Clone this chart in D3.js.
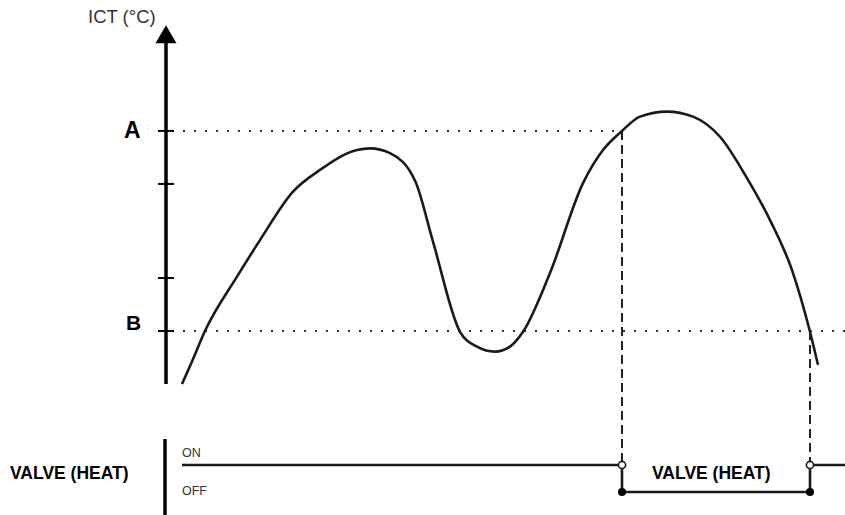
<!DOCTYPE html>
<html>
<head>
<meta charset="utf-8">
<script src="https://cdn.jsdelivr.net/npm/d3@7"></script>
<style>
    body { margin: 0; background: #fff; }
    svg { display: block; font-family: Arial, "Liberation Sans", sans-serif; }
</style>
</head>
<body>
<svg class="chart_ict" width="845" height="515"></svg>
<script>
// time (min) of each traced point of the ICT curve
var curveTime = [1.6, 2.6, 3.9, 7.1, 9.4, 12.7, 15.4, 19.1, 20.4, 22.4, 24.95, 26.7, 29.4, 31.1,
    32.9, 34.4, 35.7, 38.4, 41.7, 43.7, 45.6, 47.4, 50.1, 52.7, 55.4, 58.1, 60.5, 62.6, 64.4, 65.2];
// ICT temperature (°C) at those times
var curveTemp = [18.0, 18.85, 20.0, 22.05, 23.43, 25.26, 26.08, 26.83, 26.89, 26.71, 25.63, 23.37, 19.97, 19.41,
    19.22, 19.41, 19.97, 22.19, 25.58, 26.83, 27.55, 28.09, 28.28, 28.09, 27.33, 25.77, 24.11, 22.30, 19.97, 18.72];

var tickTemps = [20, 22, 25.55, 27.55];
var setA = 27.55;
var setB = 20;

// valve steps: start time of each state, last value is end of chart
var valveTimes = [1.6, 45.6, 64.4, 68];
var valveStates = ["ON", "OFF", "ON"];

var svg = d3.select(".chart_ict");
var ink = "#1a1a1a";

var x = d3.scaleLinear().domain([0, 68]).range([166, 846]);
var y = d3.scaleLinear().domain([18, 31.5]).range([384, 26.25]);
var yValve = d3.scaleOrdinal().domain(["ON", "OFF"]).range([465, 492]);

var data = curveTime.map(function (t, i) { return {t: t, v: curveTemp[i]}; });

// dotted setpoint lines
svg.append("line")
    .attr("x1", x(0) + 6).attr("x2", x(valveTimes[1]))
    .attr("y1", y(setA)).attr("y2", y(setA))
    .attr("stroke", "#333").attr("stroke-width", 2)
    .attr("stroke-dasharray", "2,9");
svg.append("line")
    .attr("x1", x(0) + 6).attr("x2", 845)
    .attr("y1", y(setB)).attr("y2", y(setB))
    .attr("stroke", "#333").attr("stroke-width", 2)
    .attr("stroke-dasharray", "2,9");

// dashed drops from the crossings to the valve line
svg.selectAll("line.drop")
    .data([{t: valveTimes[1], v: setA}, {t: valveTimes[2], v: setB}])
    .enter()
    .append("line")
    .attr("class", "drop")
    .attr("x1", function (d) { return x(d.t); })
    .attr("x2", function (d) { return x(d.t); })
    .attr("y1", function (d) { return y(d.v); })
    .attr("y2", yValve("ON") - 4)
    .attr("stroke", "#222").attr("stroke-width", 2)
    .attr("stroke-dasharray", "9,5");

// temperature axis
svg.append("line")
    .attr("x1", x(0)).attr("x2", x(0))
    .attr("y1", y(18)).attr("y2", y(31.5) + 12)
    .attr("stroke", "#000").attr("stroke-width", 3.5);
svg.append("path")
    .attr("d", "M" + x(0) + "," + (y(31.5) - 1) + "L" + (x(0) - 10.5) + "," + (y(31.5) + 17) + "L" + (x(0) + 10.5) + "," + (y(31.5) + 17) + "Z")
    .attr("fill", "#000");
svg.selectAll("line.tick")
    .data(tickTemps)
    .enter()
    .append("line")
    .attr("class", "tick")
    .attr("x1", x(0) - 8).attr("x2", x(0) + 8)
    .attr("y1", function (d) { return y(d); })
    .attr("y2", function (d) { return y(d); })
    .attr("stroke", "#000").attr("stroke-width", 2);

svg.append("text")
    .attr("x", 88).attr("y", 23)
    .attr("font-size", 18.5).attr("fill", "#333")
    .text("ICT (°C)");
svg.append("text")
    .attr("x", 124).attr("y", y(setA) + 7)
    .attr("font-size", 23).attr("font-weight", "bold").attr("fill", "#000")
    .text("A");
svg.append("text")
    .attr("x", 147).attr("y", y(setA) - 2)
    .attr("font-size", 8).attr("fill", "#aaa")
    .text(":");
svg.append("text")
    .attr("x", 126).attr("y", y(setB) - 1)
    .attr("font-size", 21).attr("font-weight", "bold").attr("fill", "#000")
    .text("B");

// ICT curve
var line = d3.line()
    .x(function (d) { return x(d.t); })
    .y(function (d) { return y(d.v); })
    .curve(d3.curveMonotoneX);
svg.append("path")
    .datum(data)
    .attr("d", line)
    .attr("fill", "none")
    .attr("stroke", ink)
    .attr("stroke-width", 2.6);

// valve section
svg.append("line")
    .attr("x1", 165).attr("x2", 165)
    .attr("y1", 439).attr("y2", 515)
    .attr("stroke", "#000").attr("stroke-width", 3.5);
svg.append("text")
    .attr("x", 10).attr("y", 479)
    .attr("font-size", 17.5).attr("font-weight", "bold").attr("fill", "#000")
    .text("VALVE (HEAT)");
svg.append("text")
    .attr("x", 652).attr("y", 479)
    .attr("font-size", 17.5).attr("font-weight", "bold").attr("fill", "#000")
    .text("VALVE (HEAT)");
svg.append("text")
    .attr("x", x(valveTimes[0])).attr("y", yValve("ON") - 8)
    .attr("font-size", 12.5).attr("fill", "#333")
    .text("ON");
svg.append("text")
    .attr("x", x(valveTimes[0])).attr("y", yValve("OFF") + 3)
    .attr("font-size", 12.5).attr("fill", "#333")
    .text("OFF");

var segs = valveStates.map(function (s, i) {
    return {s: s, t0: valveTimes[i], t1: valveTimes[i + 1]};
});
svg.selectAll("line.valve")
    .data(segs)
    .enter()
    .append("line")
    .attr("class", "valve")
    .attr("x1", function (d) { return x(d.t0); })
    .attr("x2", function (d) { return x(d.t1); })
    .attr("y1", function (d) { return yValve(d.s); })
    .attr("y2", function (d) { return yValve(d.s); })
    .attr("stroke", ink).attr("stroke-width", 2.6);

var switches = valveTimes.slice(1, valveTimes.length - 1);
svg.selectAll("line.step")
    .data(switches)
    .enter()
    .append("line")
    .attr("class", "step")
    .attr("x1", function (d) { return x(d); })
    .attr("x2", function (d) { return x(d); })
    .attr("y1", yValve("ON"))
    .attr("y2", yValve("OFF"))
    .attr("stroke", ink).attr("stroke-width", 2.6);
svg.selectAll("circle.off")
    .data(switches)
    .enter()
    .append("circle")
    .attr("class", "off")
    .attr("cx", function (d) { return x(d); })
    .attr("cy", yValve("OFF"))
    .attr("r", 4)
    .attr("fill", "#000");
svg.selectAll("circle.on")
    .data(switches)
    .enter()
    .append("circle")
    .attr("class", "on")
    .attr("cx", function (d) { return x(d); })
    .attr("cy", yValve("ON"))
    .attr("r", 3.6)
    .attr("fill", "#fff")
    .attr("stroke", ink)
    .attr("stroke-width", 1.6);
</script>
</body>
</html>
